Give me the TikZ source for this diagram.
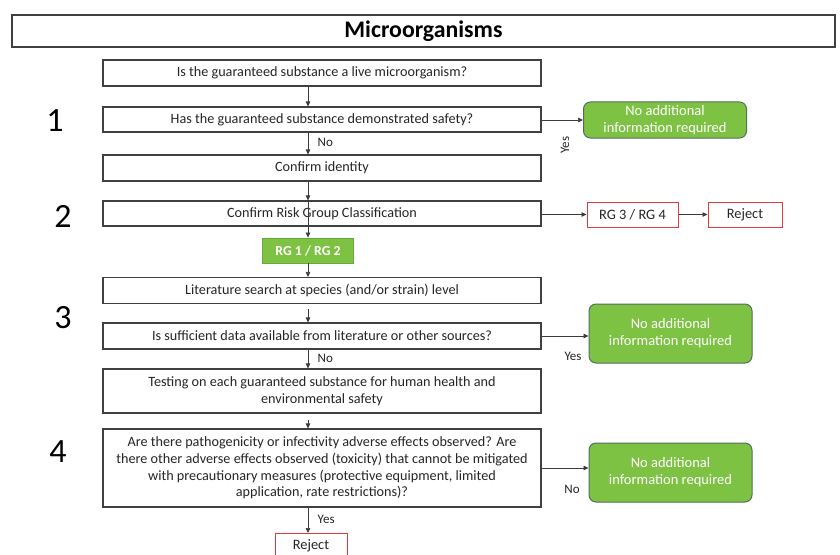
\documentclass[tikz,border=0pt]{standalone}
\usepackage{fontspec}
\setmainfont{Carlito}
\usetikzlibrary{arrows.meta}
\definecolor{boxline}{RGB}{64,64,64}
\definecolor{okgreen}{RGB}{126,194,68}
\definecolor{okline}{RGB}{84,110,90}
\definecolor{rgline}{RGB}{100,170,60}
\definecolor{rejred}{RGB}{222,60,60}
\definecolor{conn}{RGB}{60,60,60}
\tikzset{
  mainbox/.style={draw=boxline, line width=1.1pt, fill=white, minimum width=438pt, inner sep=1pt, align=center, font=\fontsize{14.2}{16.7}\selectfont, text=black!85},
  okbox/.style={draw=okline, line width=1pt, fill=okgreen, rounded corners=7pt, minimum width=163pt, align=center, text=white, font=\fontsize{14.5}{17}\selectfont},
  rgbox/.style={draw=rgline, line width=0.8pt, fill=okgreen, minimum width=91pt, minimum height=25pt, text=white, font=\bfseries\fontsize{13.8}{15}\selectfont},
  redbox/.style={draw=rejred, line width=1pt, fill=white, minimum height=25pt, font=\fontsize{14.4}{15}\selectfont, text=black!85},
  arr/.style={draw=conn, line width=0.7pt, -{Triangle[length=5pt,width=4.5pt]}},
  lbl/.style={font=\fontsize{13}{15}\selectfont, text=black!85},
  num/.style={font=\fontsize{34}{40}\selectfont}
}
\begin{document}
\begin{tikzpicture}[x=1pt,y=-1pt]
\useasboundingbox (0,0) rectangle (840,554);
\fill[white] (0,0) rectangle (840,554);
\clip (0,0) rectangle (840,554);
% title
\node[draw=black!75, line width=1.4pt, minimum width=823pt, minimum height=32pt, font=\bfseries\fontsize{23.8}{26}\selectfont] (title) at (423.5,31) {Microorganisms};
% main column
\node[mainbox, minimum height=26pt] (b1) at (322,73) {Is the guaranteed substance a live microorganism?};
\node[mainbox, minimum height=25pt] (b2) at (322,119.5) {Has the guaranteed substance demonstrated safety?};
\node[mainbox, minimum height=26pt] (b3) at (322,168) {Confirm identity};
\node[mainbox, minimum height=25pt] (b4) at (322,213.5) {Confirm Risk Group Classification};
\node[rgbox] (rg12) at (308,250.5) {RG 1 / RG 2};
\node[mainbox, minimum height=26pt] (b5) at (322,290.5) {Literature search at species (and/or strain) level};
\node[mainbox, minimum height=26pt] (b6) at (322,336) {Is sufficient data available from literature or other sources?};
\node[mainbox, minimum height=44pt] (b7) at (322,391) {Testing on each guaranteed substance for human health and\\environmental safety};
\node[mainbox, minimum height=78pt] (b8) at (322,468) {Are there pathogenicity or infectivity adverse effects observed? Are\\there other adverse effects observed (toxicity) that cannot be mitigated\\with precautionary measures (protective equipment, limited\\application, rate restrictions)?};
\node[redbox, minimum width=72pt] (rej1) at (311,546) {Reject};
% right column
\node[okbox, minimum height=36pt] (g1) at (665,120) {No additional\\information required};
\node[redbox, minimum width=91pt] (rg34) at (632.5,214.5) {RG 3 / RG 4};
\node[redbox, minimum width=74pt] (rej2) at (745,214.5) {Reject};
\node[okbox, minimum height=59pt] (g2) at (670.5,333.5) {No additional\\information required};
\node[okbox, minimum height=59pt] (g3) at (670.5,472.5) {No additional\\information required};
% numbers
\node[num] (n1) at (55,121) {1};
\node[num] (n2) at (63,216) {2};
\node[num] (n3) at (63,318) {3};
\node[num] (n4) at (58,452) {4};
% vertical connectors
\coordinate (cx) at (308,0);
\draw[arr] (b1.south -| cx) -- (b2.north -| cx);
\draw[arr] (b2.south -| cx) -- node[lbl, right=6pt, pos=0.45] (lno1) {No} (b3.north -| cx);
\draw[arr] (b3.south -| cx) -- (b4.north -| cx);
\draw[arr] (b4.north -| cx) -- (rg12.north -| cx);
\draw[arr] (rg12.south -| cx) -- (b5.north -| cx);
\draw[arr] ([yshift=-5pt]b5.south -| cx) -- (b6.north -| cx);
\draw[arr] (b6.south -| cx) -- node[lbl, right=6pt, pos=0.45] (lno2) {No} (b7.north -| cx);
\draw[arr] ([yshift=-6pt]b7.south -| cx) -- (b8.north -| cx);
\draw[arr] (b8.south -| cx) -- node[lbl, right=6pt, pos=0.45] (lyes3) {Yes} (rej1.north -| cx);
% horizontal connectors
\draw[arr] (b2.east |- g1.west) -- (g1.west);
\node[lbl, rotate=90] (lyes1) at (565,145) {Yes};
\draw[arr] (b4.east |- rg34.west) -- (rg34.west);
\draw[arr] (rg34.east) -- (rej2.west);
\draw[arr] (b6.east) -- (b6.east -| g2.west);
\node[lbl] (lyes2) at (573,356) {Yes};
\draw[arr] (b8.east) -- (b8.east -| g3.west);
\node[lbl] (lno3) at (572,489) {No};
\end{tikzpicture}
\end{document}
